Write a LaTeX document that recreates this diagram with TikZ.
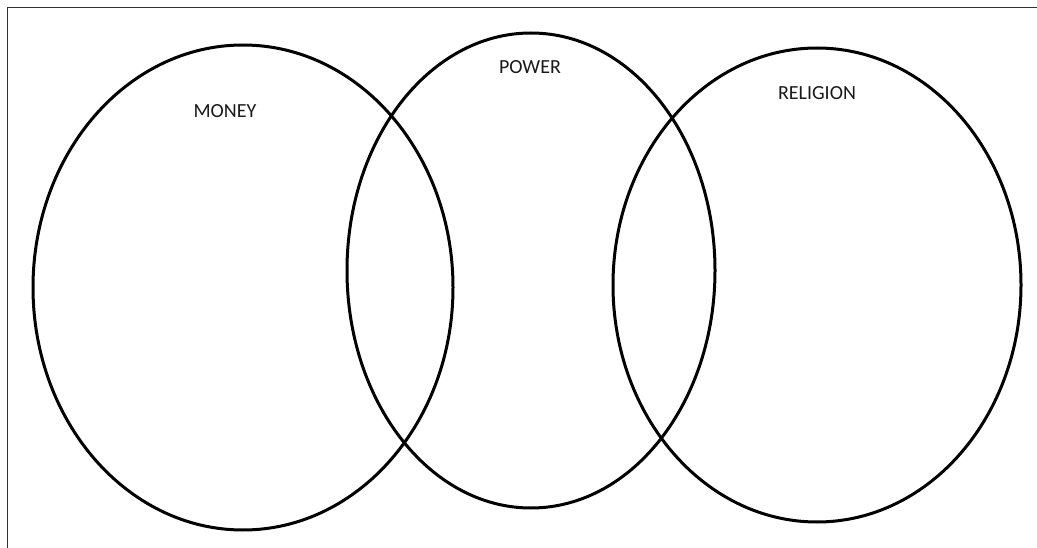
\documentclass[tikz,border=0pt]{standalone}
\usepackage{fontspec}
\setmainfont{Carlito}
\usetikzlibrary{shapes.geometric}
\begin{document}
\begin{tikzpicture}[x=1pt,y=-1pt,
  setring/.style={ellipse, draw=black, line width=3pt, inner sep=0pt},
  setlabel/.style={font=\fontsize{20}{24}\selectfont, text=black!90, inner sep=0pt, anchor=center}]
\useasboundingbox (0,0) rectangle (1037,548);
\fill[white] (0,0) rectangle (1037,548);
\draw[line width=1.6pt, black!80] (7.5,548) -- (7.5,7.5) -- (1037,7.5);
\node[setring, minimum width=420pt, minimum height=485pt] (money) at (243,287.5) {};
\node[setring, minimum width=368pt, minimum height=475pt] (power) at (531,270.5) {};
\node[setring, minimum width=408pt, minimum height=474pt] (religion) at (817,285) {};
\node[setlabel] (moneyl) at (225,111) {MONEY};
\node[setlabel] (powerl) at (530,67) {POWER};
\node[setlabel] (religionl) at (817,93) {RELIGION};
\end{tikzpicture}
\end{document}
